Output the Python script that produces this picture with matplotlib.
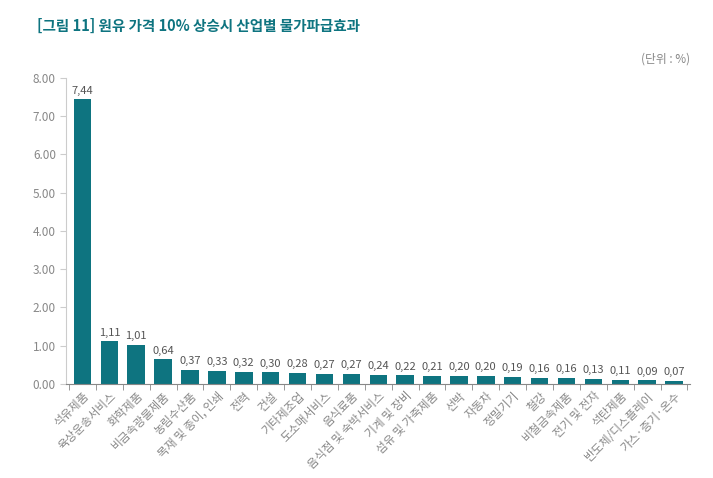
import matplotlib.pyplot as plt
from matplotlib import font_manager
import numpy as np

# pick whatever CJK family is registered
cjk = [f.name for f in font_manager.fontManager.ttflist if 'CJK' in f.name]
kr = [n for n in cjk if 'KR' in n] or cjk
plt.rcParams['font.family'] = (kr[:1] + ['DejaVu Sans']) if kr else ['DejaVu Sans']

# Industry categories and price ripple effect (%)
categories = ['석유제품', '육상운송서비스', '화학제품', '비금속광물제품', '농림수산품',
              '목재 및 종이, 인쇄', '전력', '건설', '기타제조업', '도소매서비스', '음식료품',
              '음식점 및 숙박서비스', '기계 및 장비', '섬유 및 가죽제품', '선박', '자동차',
              '정밀기기', '철강', '비철금속제품', '전기 및 전자', '석탄제품',
              '반도체/디스플레이', '가스·증기·온수']
values = [7.44, 1.11, 1.01, 0.64, 0.37, 0.33, 0.32, 0.30, 0.28, 0.27, 0.27,
          0.24, 0.22, 0.21, 0.20, 0.20, 0.19, 0.16, 0.16, 0.13, 0.11, 0.09, 0.07]
yticks = [0, 1, 2, 3, 4, 5, 6, 7, 8]

teal = '#0e7480'
gray = '#888888'

fig = plt.figure(figsize=(7.13, 4.78), dpi=100)
ax = fig.add_axes([0.093, 0.197, 0.875, 0.64])

x = np.arange(len(categories))
ax.bar(x, values, width=0.65, color=teal)
for xi, v in zip(x, values):
    ax.text(xi, v + 0.1, f'{v:.2f}'.replace('.', ','), ha='center', va='bottom',
            fontsize=8, color='#555555')

ax.set_ylim(0, 8)
ax.set_xlim(-0.6, len(categories) - 0.4)
ax.set_yticks(yticks)
ax.set_yticklabels([f'{t:.2f}' for t in yticks], fontsize=8.5, color=gray)
ax.set_xticks(x)
ax.set_xticklabels(categories, rotation=45, ha='right', rotation_mode='anchor',
                   fontsize=8.5, color=gray)
ax.set_xticks(np.arange(-0.5, len(categories), 1), minor=True)
ax.tick_params(axis='x', which='major', length=0, pad=4)
ax.tick_params(axis='x', which='minor', length=4, color=gray)
ax.tick_params(axis='y', length=4, color='#cccccc')
for s in ['top', 'right']:
    ax.spines[s].set_visible(False)
ax.spines['left'].set_color('#cccccc')
ax.spines['bottom'].set_color(gray)

fig.text(0.052, 0.935, '[그림 11] 원유 가격 10% 상승시 산업별 물가파급효과',
         fontsize=10.5, fontweight='bold', color=teal)
fig.text(0.968, 0.87, '(단위 : %)', fontsize=8.5, color=gray, ha='right')

plt.savefig('out.png')
